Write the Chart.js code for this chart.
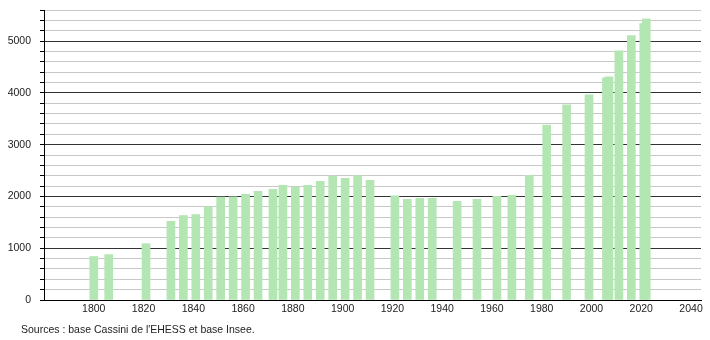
<!DOCTYPE html>
<html>
<head>
<meta charset="utf-8">
<script src="https://cdn.jsdelivr.net/npm/chart.js@4"></script>
<style>
  html, body { margin: 0; padding: 0; background: #fff; }
  #wrap { position: relative; width: 710px; height: 340px; }
</style>
</head>
<body>
<div id="wrap"><canvas id="popChart" width="710" height="340"></canvas></div>
<script>
// census years and population
const years = [1800, 1806, 1821, 1831, 1836, 1841, 1846, 1851, 1856, 1861, 1866, 1872,
  1876, 1881, 1886, 1891, 1896, 1901, 1906, 1911, 1921, 1926, 1931, 1936, 1946, 1954,
  1962, 1968, 1975, 1982, 1990, 1999, 2006, 2007, 2011, 2016, 2021, 2022];
const population = [840, 875, 1087, 1520, 1631, 1650, 1800, 1987, 1990, 2039, 2097, 2136,
  2214, 2181, 2214, 2291, 2394, 2350, 2401, 2311, 2013, 1942, 1961, 1961, 1903, 1942,
  2000, 2019, 2408, 3379, 3767, 3961, 4291, 4311, 4810, 5107, 5340, 5430];
const xTickLabels = [1800, 1820, 1840, 1860, 1880, 1900, 1920, 1940, 1960, 1980, 2000, 2020, 2040];
const yTickLabels = [0, 1000, 2000, 3000, 4000, 5000];
const sourceText = "Sources : base Cassini de l'EHESS et base Insee.";

const FONT = { family: "'Liberation Sans', Arial, sans-serif", size: 10.5 };

const sourcePlugin = {
  id: "sourceNote",
  afterDraw(chart) {
    const c = chart.ctx;
    c.save();
    c.font = "10.5px 'Liberation Sans', Arial, sans-serif";
    c.fillStyle = "#222";
    c.textBaseline = "middle";
    c.textAlign = "left";
    c.fillText(sourceText, 21, 330);
    c.restore();
  },
};

const ctx = document.getElementById("popChart").getContext("2d");

new Chart(ctx, {
  type: "bar",
  data: {
    datasets: [
      {
        data: years.map((yr, i) => ({ x: yr, y: population[i] })),
        backgroundColor: "#b3e6b3",
        borderWidth: 0,
        barThickness: 8,
      },
    ],
  },
  plugins: [sourcePlugin],
  options: {
    responsive: false,
    animation: false,
    layout: { padding: { top: 10, right: 9, left: 0, bottom: 0 } },
    scales: {
      x: {
        type: "linear",
        min: 1780,
        max: 2044,
        offset: false,
        afterBuildTicks: (s) => { s.ticks = xTickLabels.map((v) => ({ value: v })); },
        afterFit: (s) => {
          s.height = 40;
          s.paddingLeft = 0;
          s.paddingRight = 0;
        },
        grid: { display: false, drawTicks: false, offset: false },
        border: { color: "#000", width: 1 },
        ticks: {
          autoSkip: false,
          maxRotation: 0,
          padding: 3,
          color: "#222",
          font: FONT,
          callback: (v) => String(v),
        },
      },
      y: {
        min: 0,
        max: 5600,
        afterFit: (s) => {
          s.width = 44;
          s.paddingTop = 0;
          s.paddingBottom = 0;
        },
        border: { color: "#000", width: 1 },
        grid: {
          color: (c) => (c.tick && c.tick.value % 1000 === 0 ? "#333" : "#c8c8c8"),
          lineWidth: 1,
          tickLength: 4,
          tickColor: "#000",
        },
        ticks: {
          stepSize: 200,
          autoSkip: false,
          padding: 9,
          color: "#222",
          font: FONT,
          callback: (v) => (yTickLabels.includes(v) ? String(v) : ""),
        },
      },
    },
    plugins: {
      legend: { display: false },
      title: { display: false },
      tooltip: { enabled: false },
    },
  },
});
</script>
</body>
</html>
